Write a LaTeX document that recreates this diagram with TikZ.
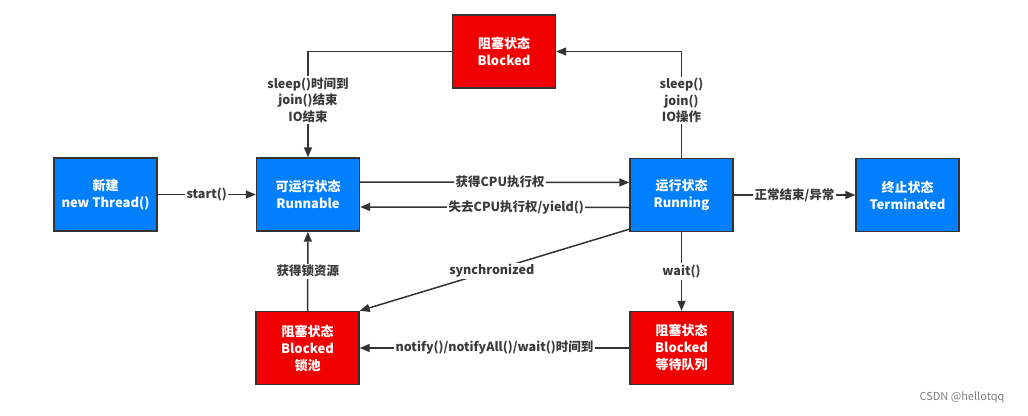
\documentclass[tikz,border=0pt]{standalone}
\usepackage{fontspec}
\setmainfont{Noto Sans CJK SC}
\usetikzlibrary{arrows.meta}
\definecolor{runblue}{HTML}{007FFF}
\definecolor{blkred}{HTML}{F00000}
\definecolor{edgegray}{HTML}{333333}
\definecolor{txtgray}{HTML}{3A3A3A}

\begin{document}
\begin{tikzpicture}[x=1pt,y=-1pt,
    state/.style={draw=edgegray,line width=1.4pt,fill=runblue,text=white,
      minimum width=103pt,minimum height=73pt,align=center,
      font=\fontsize{13}{17}\selectfont\bfseries},
    blocked/.style={state,fill=blkred},
    conn/.style={draw=edgegray,line width=1.5pt,-{Triangle[length=10pt,width=8pt]}},
    lbl/.style={fill=white,text=txtgray,inner sep=1.5pt,align=center,
      font=\fontsize{12.5}{16.5}\selectfont\bfseries}]
  \useasboundingbox (0,0) rectangle (1028,415);

  % states
  \node[state] (new) at (105.5,194.5) {新建\\new Thread()};
  \node[state] (run) at (308,194.5) {可运行状态\\Runnable};
  \node[state] (running) at (681.5,195) {运行状态\\Running};
  \node[state] (term) at (907.5,195) {终止状态\\Terminated};
  \node[blocked] (blk) at (504,51.5) {阻塞状态\\Blocked};
  \node[blocked] (lock) at (307.5,348) {阻塞状态\\Blocked\\锁池};
  \node[blocked] (waitq) at (681.5,348) {阻塞状态\\Blocked\\等待队列};

  % transitions
  \draw[conn] (new) -- node[lbl]{start()} (run);
  \draw[conn] ([yshift=12.5pt]run.east) -- node[lbl,pos=.52]{获得CPU执行权} ([yshift=12.5pt]running.west);
  \draw[conn] ([yshift=-12.5pt]running.west) -- node[lbl,pos=.42]{失去CPU执行权/yield()} ([yshift=-12.5pt]run.east);
  \draw[conn] (running) -- node[lbl]{正常结束/异常} (term);
  \draw[conn] (running.north) |- node[lbl,pos=.27]{sleep()\\join()\\IO操作} (blk.east);
  \draw[conn] (blk.west) -| node[lbl,pos=.73]{sleep()时间到\\join()结束\\IO结束} (run.north);
  \draw[conn] (lock) -- node[lbl]{获得锁资源} (run);
  \draw[conn] ([yshift=3pt]running.south west) -- node[lbl,pos=.51]{synchronized} (lock.north east);
  \draw[conn] (running) -- node[lbl]{wait()} (waitq);
  \draw[conn] (waitq) -- node[lbl]{notify()/notifyAll()/wait()时间到} (lock);

  \node[text=gray,font=\fontsize{11}{13}\selectfont] (mark) at (962,397) {CSDN @hellotqq};
\end{tikzpicture}
\end{document}
